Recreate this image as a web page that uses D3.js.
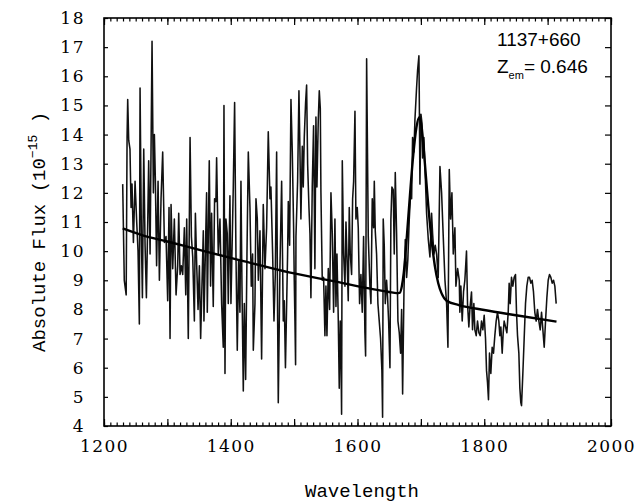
<!DOCTYPE html>
<html lang="en">
<head>
    <meta charset="UTF-8">
    <title>1137+660 spectrum</title>
    <script src="https://cdn.jsdelivr.net/npm/d3@7/dist/d3.min.js"></script>
    <style>
        body{ margin:0; background:#fff; }
        path.spec{ fill:none; stroke:#111; stroke-width:1.55px; stroke-linejoin:round; }
        path.fit{ fill:none; stroke:#000; stroke-width:2.4px; }
        .axis path{ display:none; }
        .axis line{ stroke:#000; stroke-width:1.2px; }
        .tickText{ font-family:"DejaVu Serif", serif; font-size:17px; letter-spacing:1.5px; fill:#000; }
        .title{ font-family:"Liberation Mono", monospace; font-size:19px; fill:#000; }
        .note{ font-family:"Liberation Sans", Arial, sans-serif; font-size:19px; fill:#000; }
    </style>
</head>
<body>
<svg id="main" width="642" height="503"></svg>
<script>
    // tick labels
    const xTickLabels = [1200, 1400, 1600, 1800, 2000];
    const yTickLabels = [4, 5, 6, 7, 8, 9, 10, 11, 12, 13, 14, 15, 16, 17, 18];

    // observed spectrum, [wavelength, flux]
    const spectrumPoints = [
        [1229.5,12.3],[1232,9.0],[1235,8.5],[1236.4,13.9],[1237.4,15.2],[1239,13.8],[1241,13.5],[1242.7,11.5],[1244.2,12.3],[1246.4,10.3],
        [1249,12.4],[1251.6,11.0],[1253.7,10.0],[1255.8,7.5],[1256.9,15.6],[1259,10.5],[1260.6,8.4],[1262.7,13.5],[1264.8,10.2],[1266.9,8.4],
        [1269,11.0],[1270.5,13.1],[1272.7,9.9],[1275.8,17.2],[1277.9,12.0],[1279.5,14.0],[1281,12.5],[1283,9.5],[1285.3,12.4],[1287.4,9.0],
        [1290,11.8],[1292.6,13.4],[1295.3,10.3],[1297.9,10.5],[1300.5,8.3],[1302.6,11.5],[1304.2,7.0],[1305.8,11.6],[1308.4,9.4],[1311,11.1],
        [1313.7,8.5],[1316.3,9.5],[1317.9,11.3],[1320,9.2],[1322,9.5],[1324.2,9.2],[1326.8,10.8],[1329,8.5],[1330.5,11.1],[1333,7.0],
        [1335.8,13.9],[1337.9,10.5],[1340,9.8],[1342.6,7.6],[1344.2,11.3],[1346.3,9.5],[1348.4,8.0],[1350.5,9.5],[1352.5,7.0],[1356.7,10.7],
        [1357.7,7.6],[1361.9,12.0],[1363,7.9],[1366.1,13.1],[1368.2,8.8],[1369.8,11.3],[1372.4,8.1],[1374.5,11.8],[1376.6,11.7],[1377.7,13.2],
        [1380.3,9.9],[1383,11.1],[1385.6,8.2],[1388.2,6.7],[1389.3,15.0],[1390.9,5.8],[1392.4,11.1],[1394.5,10.6],[1396.1,8.2],[1398.7,11.9],
        [1400.3,8.2],[1404,12.2],[1406.1,15.1],[1408.2,9.9],[1410.3,6.6],[1412.4,9.7],[1414.5,7.9],[1416.1,12.4],[1417.7,8.8],[1419.8,5.2],
        [1421.4,8.2],[1423.5,5.6],[1425.6,9.9],[1427.7,13.4],[1430.3,11.5],[1432.4,8.8],[1434.5,9.9],[1435.6,6.6],[1438.2,8.2],[1439.8,11.8],
        [1441.9,11.1],[1443.5,9.0],[1446.1,10.7],[1448.7,6.3],[1451.3,11.6],[1454,9.4],[1456.6,10.8],[1459.2,14.1],[1461.9,11.8],[1463.4,12.2],
        [1466.1,9.9],[1468.2,7.6],[1470.3,9.2],[1472.4,13.4],[1474,7.6],[1475,4.8],[1477.6,9.4],[1480.3,12.4],[1482.9,7.6],[1484.5,8.3],
        [1486.3,6.0],[1489.7,9.9],[1490.8,11.7],[1492.9,10.2],[1495,15.2],[1497.1,13.4],[1499.2,10.8],[1500.2,9.0],[1501.3,7.6],[1502.3,6.1],
        [1502.9,10.5],[1505.5,12.4],[1507.6,15.5],[1509.2,13.4],[1510.7,11.1],[1512.9,13.6],[1514.4,12.2],[1516,13.9],[1518.1,15.1],[1519.7,15.7],
        [1521.3,13.0],[1523.4,11.5],[1525,10.6],[1526.5,8.4],[1528.6,12.2],[1530.7,14.3],[1532.8,9.4],[1534.4,14.6],[1536,12.2],[1538.1,14.5],
        [1539.7,15.5],[1541.3,14.9],[1542.3,12.0],[1544.4,9.0],[1546.5,9.1],[1548.6,7.1],[1550.2,8.8],[1551.8,7.1],[1553.9,9.4],[1556,8.0],
        [1558.1,12.0],[1560.2,10.6],[1562.3,7.9],[1564.4,11.1],[1566,8.1],[1567.6,9.9],[1569.7,7.6],[1571.2,5.3],[1572.8,7.6],[1573.9,6.5],
        [1574.9,4.4],[1576,13.1],[1578.1,9.9],[1580.2,8.8],[1581.8,11.0],[1583.3,9.9],[1585.4,8.3],[1587,11.5],[1588.6,9.9],[1590.7,9.2],
        [1592.3,11.8],[1593.9,12.4],[1596,14.8],[1597.5,11.1],[1599.6,11.5],[1601.2,10.8],[1603.3,8.2],[1605.4,9.2],[1607.5,7.9],[1609.6,10.5],
        [1611.7,7.2],[1612.8,6.4],[1614.4,16.6],[1617,10.5],[1619.6,8.8],[1621.2,8.2],[1623.3,11.8],[1625.4,10.8],[1626.5,12.4],[1628,10.7],
        [1630.1,9.9],[1632.2,8.2],[1634.3,7.6],[1636.4,7.0],[1638.5,5.9],[1639.6,4.3],[1640.6,11.1],[1642.2,10.2],[1643.8,8.2],[1645.9,9.0],
        [1647.5,8.4],[1649.1,7.6],[1651.2,6.0],[1652.7,11.1],[1654.3,12.2],[1656.4,12.1],[1658,9.9],[1659.6,12.7],[1661.7,10.6],[1663.8,7.6],
        [1665.9,7.2],[1668,6.5],[1669.6,8.0],[1671.2,5.1],[1673.3,8.6],[1675.4,10.4],[1677.5,9.1],[1679.4,9.7],[1681.7,11.1],[1683.8,12.0],
        [1685.4,11.8],[1686.9,13.9],[1689,13.4],[1690.6,14.5],[1693.2,15.6],[1694.8,16.2],[1696.9,16.7],[1697.4,15.6],[1698.5,12.3],[1700.1,14.7],
        [1701.7,14.4],[1702.7,13.2],[1704.8,13.9],[1706.4,12.9],[1709,11.3],[1711.7,10.4],[1714.3,9.8],[1716.9,11.3],[1718.5,10.6],[1720.6,9.9],
        [1722.7,10.2],[1724.8,9.9],[1727.4,9.1],[1730.1,12.9],[1732.7,12.0],[1735.3,10.5],[1738,9.0],[1740.6,8.2],[1742.7,6.7],[1744.8,12.8],
        [1746.9,11.1],[1749,12.0],[1751.1,9.9],[1753.7,10.8],[1755.3,8.8],[1758,9.4],[1760.6,9.0],[1761.5,7.9],[1763.1,8.8],[1765.2,7.6],
        [1767.3,8.6],[1769.4,9.0],[1772,10.0],[1773.6,8.2],[1775.7,7.4],[1777.3,8.0],[1779.9,8.6],[1781.5,7.3],[1783.6,8.2],[1785.2,7.3],
        [1787.3,7.1],[1789.4,7.6],[1791.5,7.2],[1793.6,7.1],[1795.7,7.6],[1797.8,7.3],[1799.9,7.8],[1802,7.0],[1803.6,5.9],[1805.1,5.5],
        [1806.7,4.9],[1808.3,6.5],[1810.4,5.8],[1812.5,6.7],[1814.6,6.5],[1816.7,7.1],[1818.8,7.6],[1820.9,7.9],[1823,7.6],[1824.6,7.1],
        [1826.2,7.4],[1828.3,6.5],[1829.9,7.2],[1831.4,7.6],[1833.6,7.4],[1835.7,7.2],[1837.8,7.9],[1839.3,8.9],[1840.9,8.2],[1843,9.1],
        [1845.1,8.8],[1847.2,9.1],[1849.3,9.2],[1850.9,7.9],[1852.5,7.1],[1854.6,6.5],[1856.2,5.3],[1857.7,4.8],[1858.8,4.7],[1860.9,5.8],
        [1863,7.0],[1865.1,8.2],[1867.2,8.8],[1869.3,9.1],[1871.4,9.1],[1873.5,8.9],[1875.6,9.0],[1877.7,8.6],[1879.8,7.9],[1881.9,7.6],
        [1884,8.0],[1886.2,7.6],[1888.3,7.3],[1890.4,7.9],[1892.5,7.3],[1894.6,6.7],[1896.7,7.6],[1898.8,8.4],[1900.9,9.0],[1903,9.2],
        [1905.1,9.1],[1907.2,8.9],[1909.3,9.0],[1911.4,8.8],[1913.5,8.2]
    ];

    // continuum + emission line fit, [wavelength, flux]
    const fitPoints = [
        [1229.5,10.78],[1260,10.55],[1300,10.33],[1358,10.0],[1420,9.66],[1492,9.27],[1560,8.98],[1626,8.69],
        [1650,8.6],[1662,8.56],[1667,8.58],[1670,8.8],[1673,9.25],[1677.5,10.4],[1682.7,11.9],[1688,13.3],
        [1693,14.25],[1697.5,14.6],[1701,14.3],[1706,13.1],[1711.7,11.55],[1717,10.35],[1722,9.5],[1727.4,8.9],
        [1732.7,8.55],[1740.6,8.3],[1760,8.15],[1800,7.98],[1850,7.8],[1914,7.58]
    ];

    let svg = d3.select('svg#main');
    let plot = {left:104, right:611, top:18, bottom:426};

    let xScale = d3.scaleLinear().domain([1200, 2000]).range([plot.left, plot.right]);
    let yScale = d3.scaleLinear().domain([4, 18]).range([plot.bottom, plot.top]);

    let minorX = d3.range(1200, 2001, 10);
    let majorX = d3.range(1200, 2001, 100);

    // bottom axis: minor, major with labels
    svg.append('g').attr('class', 'axis')
        .attr('transform', 'translate(0,' + plot.bottom + ')')
        .call(d3.axisBottom(xScale).tickValues(minorX).tickSizeInner(-3.5).tickSizeOuter(0).tickFormat(''));
    let xAxis = svg.append('g').attr('class', 'axis')
        .attr('transform', 'translate(0,' + plot.bottom + ')')
        .call(d3.axisBottom(xScale).tickValues(majorX).tickSizeInner(-7).tickSizeOuter(0).tickPadding(14)
            .tickFormat(function(d){ return xTickLabels.indexOf(d) >= 0 ? d : ''; }));
    xAxis.selectAll('text').attr('class', 'tickText');

    // top axis, ticks only
    svg.append('g').attr('class', 'axis')
        .attr('transform', 'translate(0,' + plot.top + ')')
        .call(d3.axisTop(xScale).tickValues(minorX).tickSizeInner(-3.5).tickSizeOuter(0).tickFormat(''));
    svg.append('g').attr('class', 'axis')
        .attr('transform', 'translate(0,' + plot.top + ')')
        .call(d3.axisTop(xScale).tickValues(majorX).tickSizeInner(-7).tickSizeOuter(0).tickFormat(''));

    // left axis with labels
    let yAxis = svg.append('g').attr('class', 'axis')
        .attr('transform', 'translate(' + plot.left + ',0)')
        .call(d3.axisLeft(yScale).tickValues(yTickLabels).tickSizeInner(-4).tickSizeOuter(0).tickPadding(19).tickFormat(d3.format('d')));
    yAxis.selectAll('text').attr('class', 'tickText');

    // right axis, ticks only
    svg.append('g').attr('class', 'axis')
        .attr('transform', 'translate(' + plot.right + ',0)')
        .call(d3.axisRight(yScale).tickValues(yTickLabels).tickSizeInner(-6).tickSizeOuter(0).tickFormat(''));

    // frame
    svg.append('rect')
        .attr('x', plot.left).attr('y', plot.top)
        .attr('width', plot.right - plot.left).attr('height', plot.bottom - plot.top)
        .attr('fill', 'none').attr('stroke', '#000').attr('stroke-width', 1.6);

    // lines
    let specLine = d3.line()
        .x(function(d){ return xScale(d[0]); })
        .y(function(d){ return yScale(d[1]); });
    let fitLine = d3.line()
        .x(function(d){ return xScale(d[0]); })
        .y(function(d){ return yScale(d[1]); })
        .curve(d3.curveMonotoneX);

    svg.append('path').attr('class', 'spec').attr('d', specLine(spectrumPoints));
    svg.append('path').attr('class', 'fit').attr('d', fitLine(fitPoints));

    // axis titles
    svg.append('text').attr('class', 'title')
        .attr('x', 362).attr('y', 497)
        .attr('text-anchor', 'middle')
        .text('Wavelength');

    let yTitle = svg.append('text').attr('class', 'title')
        .attr('transform', 'translate(45,352) rotate(-90)')
        .attr('text-anchor', 'start');
    yTitle.append('tspan').text('Absolute Flux  (10');
    yTitle.append('tspan').attr('dy', -8).attr('font-size', '13px').text('\u221215');
    yTitle.append('tspan').attr('dy', 8).text(' )');

    // object annotation
    svg.append('text').attr('class', 'note')
        .attr('x', 497).attr('y', 46)
        .text('1137+660');
    let zText = svg.append('text').attr('class', 'note')
        .attr('x', 497).attr('y', 73);
    zText.append('tspan').text('Z');
    zText.append('tspan').attr('dy', 6).attr('font-size', '11px').text('em');
    zText.append('tspan').attr('dy', -6).text('= 0.646');
</script>
</body>
</html>
